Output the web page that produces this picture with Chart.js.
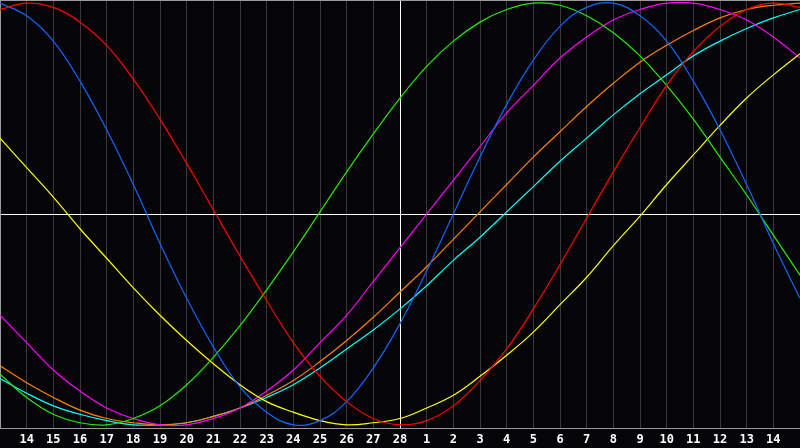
<!DOCTYPE html>
<html>
<head>
<meta charset="utf-8">
<script src="https://cdn.jsdelivr.net/npm/chart.js@4/dist/chart.umd.min.js"></script>
<style>
	html, body { margin: 0; padding: 0; background: #050508; }
	#wrap { width: 800px; height: 448px; }
</style>
</head>
<body>
<div id="wrap"><canvas id="bio"></canvas></div>
<script>
// 날짜 라벨 (양 끝은 잘려서 안 보임)
let dayLabels = ['13', '14', '15', '16', '17', '18', '19', '20', '21', '22', '23', '24', '25', '26', '27', '28',
	'1', '2', '3', '4', '5', '6', '7', '8', '9', '10', '11', '12', '13', '14', '15'];
let todayIndex = 15;

let redVals = [0.97, 1.00, 0.98, 0.91, 0.80, 0.64, 0.45, 0.24, 0.02, -0.20, -0.41, -0.61, -0.77, -0.89, -0.97, -1.00,
	-0.98, -0.91, -0.79, -0.64, -0.45, -0.24, -0.02, 0.20, 0.41, 0.61, 0.77, 0.89, 0.97, 1.00, 0.98];
let blueVals = [1.00, 0.94, 0.82, 0.63, 0.40, 0.14, -0.14, -0.40, -0.63, -0.82, -0.94, -1.00, -0.98, -0.89, -0.73, -0.52,
	-0.27, 0.00, 0.27, 0.52, 0.73, 0.89, 0.98, 1.00, 0.94, 0.82, 0.63, 0.40, 0.14, -0.14, -0.40];
let greenVals = [-0.76, -0.87, -0.95, -0.99, -1.00, -0.97, -0.91, -0.81, -0.68, -0.53, -0.36, -0.18, 0.01, 0.20, 0.38, 0.55,
	0.70, 0.82, 0.91, 0.97, 1.00, 0.99, 0.94, 0.86, 0.75, 0.61, 0.45, 0.27, 0.09, -0.10, -0.29];
let yellowVals = [0.36, 0.22, 0.08, -0.07, -0.21, -0.35, -0.48, -0.60, -0.71, -0.81, -0.89, -0.94, -0.98, -1.00, -0.99, -0.97,
	-0.92, -0.86, -0.77, -0.67, -0.56, -0.43, -0.30, -0.15, -0.01, 0.14, 0.28, 0.42, 0.55, 0.66, 0.76];
let magentaVals = [-0.48, -0.61, -0.74, -0.84, -0.92, -0.97, -1.00, -1.00, -0.97, -0.92, -0.84, -0.74, -0.61, -0.48, -0.32, -0.16,
	0.00, 0.16, 0.32, 0.48, 0.61, 0.74, 0.84, 0.92, 0.97, 1.00, 1.00, 0.97, 0.92, 0.84, 0.74];
let orangeVals = [-0.72, -0.80, -0.87, -0.93, -0.97, -0.99, -1.00, -0.99, -0.96, -0.92, -0.86, -0.79, -0.70, -0.60, -0.49, -0.37,
	-0.25, -0.12, 0.01, 0.14, 0.27, 0.39, 0.51, 0.62, 0.72, 0.80, 0.87, 0.93, 0.97, 0.99, 1.00];
let cyanVals = [-0.78, -0.85, -0.91, -0.95, -0.98, -1.00, -1.00, -0.99, -0.96, -0.92, -0.87, -0.81, -0.73, -0.64, -0.55, -0.45,
	-0.34, -0.22, -0.11, 0.01, 0.13, 0.25, 0.36, 0.47, 0.57, 0.66, 0.75, 0.82, 0.88, 0.93, 0.97];

function line(vals, color) {
	return {
		data: vals,
		borderColor: color,
		borderWidth: 1.2,
		pointRadius: 0,
		tension: 0.4,
		fill: false
	};
}

new Chart(document.getElementById('bio'), {
	type: 'line',
	data: {
		labels: dayLabels,
		datasets: [
			line(redVals, '#ff0000'),
			line(blueVals, '#1166ff'),
			line(greenVals, '#22ee00'),
			line(yellowVals, '#ffff00'),
			line(magentaVals, '#ff00ff'),
			line(orangeVals, '#ff8000'),
			line(cyanVals, '#00ffff')
		]
	},
	options: {
		responsive: true,
		maintainAspectRatio: false,
		animation: false,
		layout: { padding: 0 },
		plugins: { legend: { display: false }, tooltip: { enabled: false } },
		scales: {
			x: {
				offset: false,
				afterFit: (scale) => {
					scale.paddingLeft = 0;
					scale.paddingRight = 0;
					scale.height = 20;
				},
				grid: {
					drawTicks: false,
					color: (ctx) => {
						if (ctx.index === todayIndex) return '#ffffff';
						if (ctx.index === 0 || ctx.index === dayLabels.length - 1) return 'rgba(0,0,0,0)';
						return '#3a3a3a';
					}
				},
				border: { display: true, color: '#9a9a9a' },
				ticks: {
					autoSkip: false,
					maxRotation: 0,
					padding: 5,
					color: '#ffffff',
					font: { family: 'DejaVu Sans Mono', weight: 'bold', size: 12 },
					callback: function(value, index) {
						if (index === 0 || index === dayLabels.length - 1) return '';
						return dayLabels[index];
					}
				}
			},
			y: {
				min: -1.015,
				max: 1.015,
				afterFit: (scale) => {
					scale.width = 0;
					scale.paddingTop = 0;
					scale.paddingBottom = 0;
				},
				afterBuildTicks: (axis) => {
					axis.ticks = [{ value: -1.015 }, { value: 0 }, { value: 1.015 }];
				},
				grid: {
					drawTicks: false,
					color: (ctx) => ctx.tick.value === 0 ? '#ffffff' : '#9a9a9a'
				},
				border: { display: true, color: '#9a9a9a' },
				ticks: { display: false }
			}
		}
	}
});
</script>
</body>
</html>
